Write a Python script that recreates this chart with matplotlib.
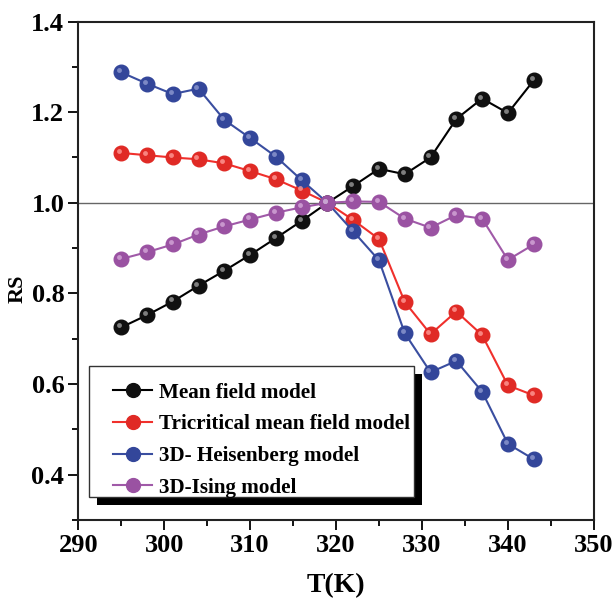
import matplotlib.pyplot as plt
import matplotlib.transforms as mtransforms
from matplotlib.patches import Rectangle
from matplotlib.ticker import MultipleLocator
import numpy as np

plt.rcParams['font.family'] = 'Liberation Serif'
plt.rcParams['font.weight'] = 'bold'

T = [295, 298, 301, 304, 307, 310, 313, 316, 319, 322, 325, 328, 331, 334, 337, 340, 343]
mean_field = [0.725, 0.752, 0.782, 0.817, 0.850, 0.885, 0.922, 0.960, 1.0, 1.037, 1.075,
              1.063, 1.100, 1.185, 1.230, 1.198, 1.270]
tricritical = [1.110, 1.105, 1.100, 1.096, 1.087, 1.070, 1.052, 1.027, 1.0, 0.962, 0.920,
               0.781, 0.710, 0.760, 0.708, 0.597, 0.575]
heisenberg = [1.288, 1.263, 1.240, 1.252, 1.183, 1.143, 1.102, 1.050, 1.0, 0.937, 0.873,
              0.712, 0.626, 0.651, 0.583, 0.468, 0.434]
ising = [0.876, 0.891, 0.908, 0.930, 0.948, 0.963, 0.978, 0.990, 1.0, 1.003, 1.002,
         0.965, 0.945, 0.973, 0.965, 0.874, 0.908]

series = [
    ('Mean field model', mean_field, '#000000', '#101010', '#9a9a9a'),
    ('Tricritical mean field model', tricritical, '#f0302c', '#e02a25', '#ff9a96'),
    ('3D- Heisenberg model', heisenberg, '#3a4ea0', '#33469a', '#8f9ad0'),
    ('3D-Ising model', ising, '#a05aa8', '#9a52a2', '#d4a8d8'),
]

fig = plt.figure(figsize=(6.16, 5.99), dpi=100)
ax = fig.add_axes([0.127, 0.132, 0.837, 0.832])

ax.axhline(1.0, color='#666666', lw=1.0, zorder=1)

# little shine on each ball
shine = mtransforms.offset_copy(ax.transData, fig=fig, x=-1.5, y=1.5, units='points')

handles = []
for name, vals, lc, mc, hc in series:
    h, = ax.plot(T, vals, '-o', color=lc, lw=1.5, ms=10.5, mfc=mc, mec=mc, zorder=3)
    ax.plot(T, vals, 'o', ms=3.5, mfc=hc, mec='none', alpha=0.8,
            transform=shine, zorder=4)
    handles.append(h)

ax.set_xlim(290, 350)
ax.set_ylim(0.3, 1.4)
ax.xaxis.set_major_locator(MultipleLocator(10))
ax.xaxis.set_minor_locator(MultipleLocator(5))
ax.yaxis.set_major_locator(MultipleLocator(0.2))
ax.yaxis.set_minor_locator(MultipleLocator(0.1))
ax.set_yticks([0.4, 0.6, 0.8, 1.0, 1.2, 1.4])
ax.tick_params(which='major', direction='out', length=7, width=1.3, labelsize=19, pad=3)
ax.tick_params(which='minor', direction='out', length=4, width=1.3)
for lab in ax.get_xticklabels() + ax.get_yticklabels():
    lab.set_fontweight('bold')
for sp in ax.spines.values():
    sp.set_linewidth(1.5)
    sp.set_color('#222222')

ax.set_xlabel('T(K)', fontsize=20, fontweight='bold', labelpad=12)
ax.set_ylabel('RS', fontsize=16, fontweight='bold')
ax.yaxis.set_label_coords(-0.099, 0.464)

# legend box with black drop shadow, drawn by hand
box = (0.0213, 0.046, 0.63, 0.263)
ax.add_patch(Rectangle((box[0] + 8 / 516, box[1] - 8 / 498), box[2], box[3],
                       transform=ax.transAxes, facecolor='black',
                       edgecolor='none', zorder=5, clip_on=False))
ax.add_patch(Rectangle(box[:2], box[2], box[3], transform=ax.transAxes,
                       facecolor='white', edgecolor='#333333', lw=1.0,
                       zorder=6, clip_on=False))

leg = ax.legend(handles, [s[0] for s in series], loc='center left',
                bbox_to_anchor=(0.068, 0.16), borderaxespad=0, frameon=False,
                prop={'family': 'Liberation Serif', 'weight': 'bold', 'size': 15.2},
                handlelength=1.85, handletextpad=0.3, labelspacing=0.55,
                borderpad=0, markerscale=0.95)
leg.set_zorder(7)

fig.savefig('out.png', dpi=100)
